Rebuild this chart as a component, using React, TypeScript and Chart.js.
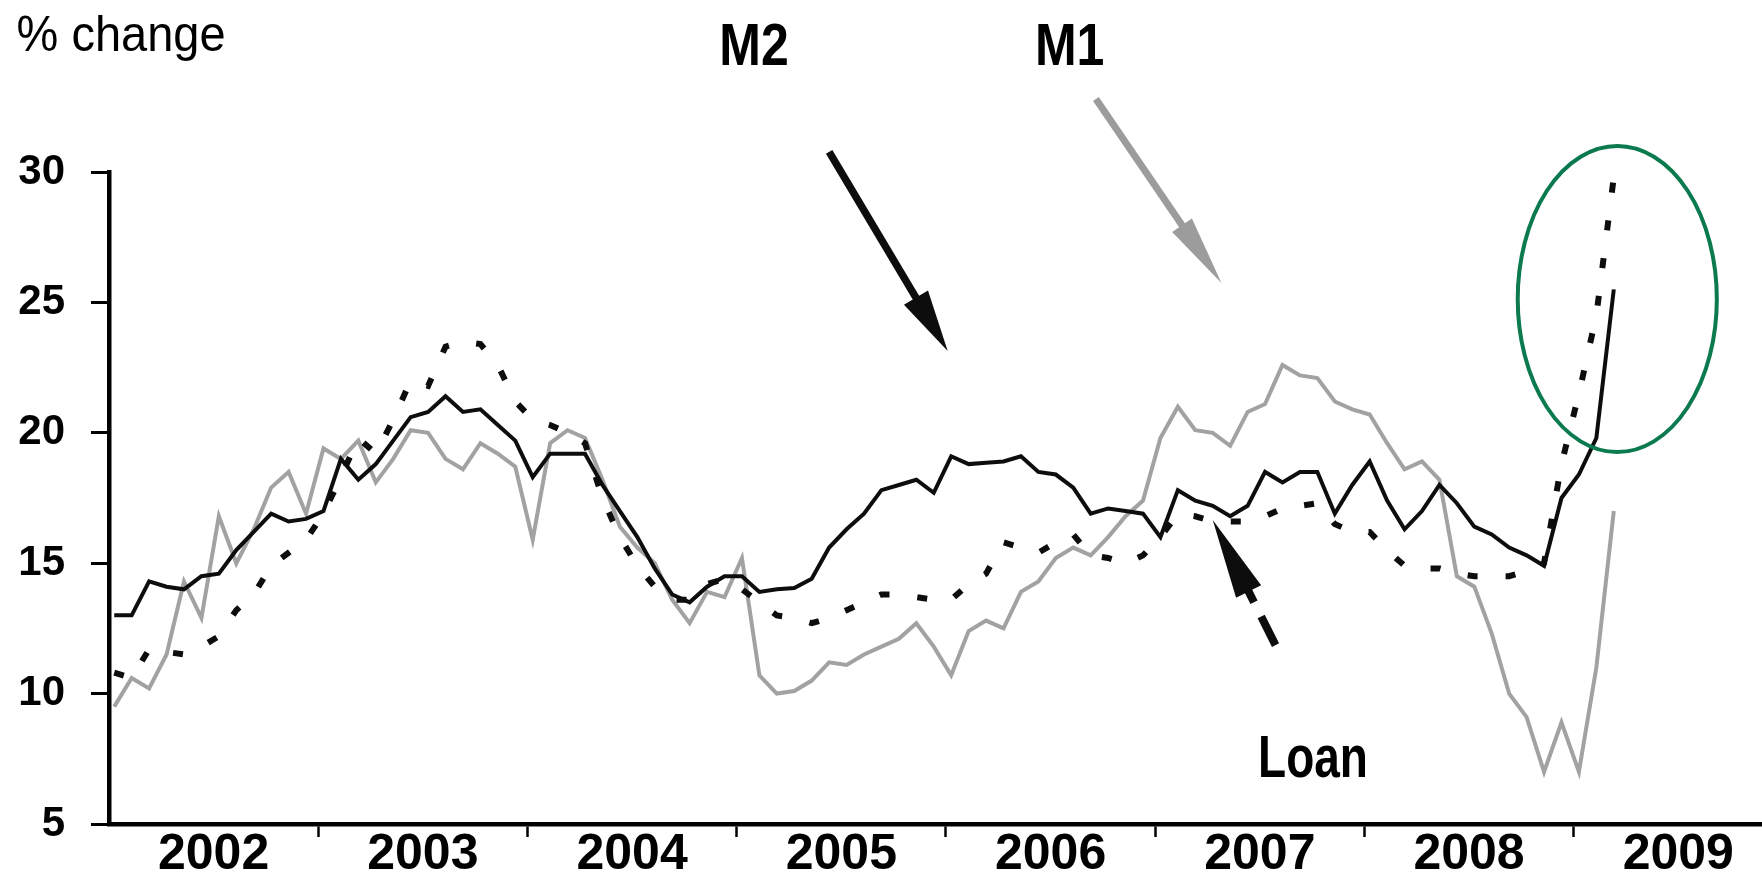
import React, { useEffect, useRef } from "react";
import { Chart, registerables } from "chart.js";

Chart.register(...registerables);

// ---- Data (monthly, Jan 2002 = index 0 ... Mar 2009 = index 86) ----
const YEARS = ["2002", "2003", "2004", "2005", "2006", "2007", "2008", "2009"];
const Y_TICKS = [5, 10, 15, 20, 25, 30];

const M2 = [
  13.0, 13.0, 14.3, 14.1, 14.0, 14.5, 14.6, 15.5, 16.2, 16.9, 16.6, 16.7,
  17.0, 19.0, 18.2, 18.8, 19.7, 20.6, 20.8, 21.4, 20.8, 20.9, 20.3, 19.7,
  18.3, 19.2, 19.2, 19.2, 18.0, 17.0, 16.0, 14.8, 13.8, 13.5, 14.1, 14.5,
  14.5, 13.9, 14.0, 14.05, 14.4, 15.6, 16.3, 16.9, 17.8, 18.0, 18.2, 17.7,
  19.1, 18.8, 18.85, 18.9, 19.1, 18.5, 18.4, 17.9, 16.9, 17.1, 17.0, 16.9,
  16.0, 17.8, 17.4, 17.2, 16.8, 17.2, 18.5, 18.1, 18.5, 18.5, 16.9, 18.0,
  18.9, 17.4, 16.3, 17.0, 18.0, 17.3, 16.4, 16.1, 15.6, 15.3, 14.9, 17.5,
  18.4, 19.8, 25.5,
];

const M1 = [
  9.5, 10.6, 10.2, 11.5, 14.3, 12.9, 16.8, 15.0, 16.3, 17.9, 18.5, 16.9,
  19.4, 19.0, 19.7, 18.1, 19.0, 20.1, 20.0, 19.0, 18.6, 19.6, 19.2, 18.7,
  15.9, 19.6, 20.1, 19.8, 18.2, 16.4, 15.6, 15.0, 13.6, 12.7, 13.9, 13.7,
  15.2, 10.7, 10.0, 10.1, 10.5, 11.2, 11.1, 11.5, 11.8, 12.1, 12.7, 11.8,
  10.7, 12.4, 12.8, 12.5, 13.9, 14.3, 15.2, 15.6, 15.3, 16.0, 16.8, 17.4,
  19.8, 21.0, 20.1, 20.0, 19.5, 20.8, 21.1, 22.6, 22.2, 22.1, 21.2, 20.9,
  20.7, 19.6, 18.6, 18.9, 18.2, 14.5, 14.1, 12.3, 10.0, 9.1, 7.0, 8.9,
  7.0, 11.0, 17.0,
];

const LOAN = [
  10.8, 10.6, 11.7, 11.6, 11.5, 11.8, 12.2, 13.2, 13.8, 14.9, 15.4, 15.9,
  16.9, 18.3, 19.8, 19.2, 20.5, 22.0, 21.8, 23.3, 23.5, 23.4, 22.6, 21.2,
  20.5, 20.3, 20.0, 19.6, 17.5, 16.0, 14.9, 14.1, 13.6, 13.6, 14.2, 14.4,
  14.0, 13.5, 13.0, 12.9, 12.7, 12.9, 13.2, 13.5, 13.8, 13.8, 13.7, 13.6,
  13.6, 14.2, 14.6, 15.8, 15.6, 15.4, 15.8, 16.1, 15.3, 15.2, 15.0, 15.3,
  16.0, 16.9, 16.8, 16.6, 16.6, 16.6, 16.8, 17.1, 17.2, 17.3, 16.5, 16.2,
  16.2, 15.5, 14.9, 14.8, 14.8, 14.6, 14.5, 14.5, 14.5, 14.7, 15.0, 18.8,
  21.5, 24.5, 29.8,
];

// x axis range in months (axis origin slightly before Jan 2002)
const X_START = -0.3;
const X_END = 94.5;

// Annotation anchors in data units: [month, value]
const LABEL_M2 = [34.7, 34.1];
const LABEL_M1 = [52.8, 34.1];
const LABEL_LOAN = [65.6, 6.8];
const LABEL_UNIT = [-5.6, 34.65];
const ARROW_M2 = [41.0, 30.77, 47.8, 23.14];
const ARROW_M1 = [56.3, 32.8, 63.5, 25.74];
const ARROW_LOAN = [66.6, 11.86, 63.0, 16.66];
const ELLIPSE = [86.2, 25.13, 5.71, 5.87];

function drawArrow(
  ctx: CanvasRenderingContext2D,
  x1: number, y1: number, x2: number, y2: number,
  color: string, shaftW: number, headLen: number, headW: number, dash?: number[]
) {
  const dx = x2 - x1, dy = y2 - y1;
  const L = Math.hypot(dx, dy);
  const ux = dx / L, uy = dy / L;
  const bx = x2 - ux * headLen, by = y2 - uy * headLen;
  ctx.save();
  ctx.strokeStyle = color;
  ctx.lineWidth = shaftW;
  ctx.lineCap = "butt";
  if (dash) ctx.setLineDash(dash);
  ctx.beginPath();
  ctx.moveTo(x1, y1);
  ctx.lineTo(bx + ux * 4, by + uy * 4);
  ctx.stroke();
  ctx.setLineDash([]);
  ctx.fillStyle = color;
  ctx.beginPath();
  ctx.moveTo(x2, y2);
  ctx.lineTo(bx - uy * headW, by + ux * headW);
  ctx.lineTo(bx + uy * headW, by - ux * headW);
  ctx.closePath();
  ctx.fill();
  ctx.restore();
}

function drawText(
  ctx: CanvasRenderingContext2D, text: string, x: number, y: number,
  font: string, sy: number, color = "#000"
) {
  ctx.save();
  ctx.translate(x, y);
  ctx.scale(1, sy);
  ctx.font = font;
  ctx.fillStyle = color;
  ctx.textAlign = "left";
  ctx.textBaseline = "alphabetic";
  ctx.fillText(text, 0, 0);
  ctx.restore();
}

export default function App() {
  const ref = useRef<HTMLCanvasElement>(null);

  useEffect(() => {
    document.body.style.margin = "0";
    const canvas = ref.current;
    if (!canvas) return;

    const toPts = (arr: number[]) => arr.map((v, i) => ({ x: i, y: v }));
    const boundaries = YEARS.slice(1).map((_, k) => X_START + 12 * (k + 1));
    const centers = YEARS.map((_, k) => X_START + 12 * k + 6);
    const isBoundary = (v: number) => boundaries.some((b) => Math.abs(b - v) < 1e-6);

    const annot = {
      id: "annot",
      afterDraw(chart: any) {
        const ctx: CanvasRenderingContext2D = chart.ctx;
        const xs = chart.scales.x, ys = chart.scales.y;
        const px = (m: number) => xs.getPixelForValue(m);
        const py = (v: number) => ys.getPixelForValue(v);

        drawText(ctx, "% change", px(LABEL_UNIT[0]), py(LABEL_UNIT[1]), "47px 'Liberation Sans', Arial, sans-serif", 1.05);
        drawText(ctx, "M2", px(LABEL_M2[0]), py(LABEL_M2[1]), "bold 50px 'Liberation Sans', Arial, sans-serif", 1.2);
        drawText(ctx, "M1", px(LABEL_M1[0]), py(LABEL_M1[1]), "bold 50px 'Liberation Sans', Arial, sans-serif", 1.2);
        drawText(ctx, "Loan", px(LABEL_LOAN[0]), py(LABEL_LOAN[1]), "bold 46px 'Liberation Sans', Arial, sans-serif", 1.28);

        drawArrow(ctx, px(ARROW_M2[0]), py(ARROW_M2[1]), px(ARROW_M2[2]), py(ARROW_M2[3]), "#0d0d0d", 7.5, 62, 14);
        drawArrow(ctx, px(ARROW_M1[0]), py(ARROW_M1[1]), px(ARROW_M1[2]), py(ARROW_M1[3]), "#9c9c9c", 7, 70, 12);
        drawArrow(ctx, px(ARROW_LOAN[0]), py(ARROW_LOAN[1]), px(ARROW_LOAN[2]), py(ARROW_LOAN[3]), "#0d0d0d", 8, 80, 14, [32, 16]);

        const cx = px(ELLIPSE[0]), cy = py(ELLIPSE[1]);
        const rx = px(ELLIPSE[0] + ELLIPSE[2]) - cx;
        const ry = cy - py(ELLIPSE[1] + ELLIPSE[3]);
        ctx.save();
        ctx.strokeStyle = "#0b7a4e";
        ctx.lineWidth = 4;
        ctx.beginPath();
        ctx.ellipse(cx, cy, rx, ry, 0, 0, Math.PI * 2);
        ctx.stroke();
        ctx.restore();
      },
    };

    const chart = new Chart(canvas, {
      type: "line",
      data: {
        datasets: [
          { label: "M1", data: toPts(M1), borderColor: "#a2a2a2", borderWidth: 4, pointRadius: 0, order: 2, tension: 0 },
          { label: "M2", data: toPts(M2), borderColor: "#0d0d0d", borderWidth: 4, pointRadius: 0, order: 1, tension: 0 },
          {
            label: "Loan", data: toPts(LOAN), borderColor: "#0d0d0d", borderWidth: 6, borderDash: [10, 28],
            borderCapStyle: "butt", pointRadius: 0, order: 0, tension: 0,
          },
        ],
      },
      options: {
        responsive: false,
        animation: false,
        events: [],
        layout: { padding: { top: 172, right: 0, bottom: 0, left: 0 } },
        plugins: { legend: { display: false }, tooltip: { enabled: false } },
        scales: {
          x: {
            type: "linear",
            min: X_START,
            max: X_END,
            afterBuildTicks: (s: any) => {
              s.ticks = [...boundaries, ...centers].sort((a, b) => a - b).map((v) => ({ value: v }));
            },
            afterFit: (s: any) => { s.height = 54; },
            ticks: {
              autoSkip: false,
              maxRotation: 0,
              minRotation: 0,
              padding: -12,
              color: "#000",
              font: { family: "'Liberation Sans', Arial, sans-serif", size: 50, weight: "bold" },
              callback: (v: any) => {
                const k = centers.findIndex((c) => Math.abs(c - Number(v)) < 1e-6);
                return k >= 0 ? YEARS[k] : "";
              },
            },
            grid: {
              drawOnChartArea: false,
              drawTicks: true,
              tickLength: 13,
              tickWidth: 2.5,
              tickColor: (c: any) => (c.tick && isBoundary(c.tick.value) ? "#000" : "rgba(0,0,0,0)"),
            },
            border: { display: true, color: "#000", width: 4.5 },
          },
          y: {
            type: "linear",
            min: 5,
            max: 30,
            afterBuildTicks: (s: any) => { s.ticks = Y_TICKS.map((v) => ({ value: v })); },
            afterFit: (s: any) => { s.width = 109; },
            ticks: {
              padding: 26,
              color: "#000",
              font: { family: "'Liberation Sans', Arial, sans-serif", size: 42, weight: "bold" },
            },
            grid: { drawOnChartArea: false, drawTicks: true, tickLength: 18, tickWidth: 3, tickColor: "#000" },
            border: { display: true, color: "#000", width: 4.5 },
          },
        },
      },
      plugins: [annot],
    } as any);

    return () => chart.destroy();
  }, []);

  return <canvas ref={ref} width={1762} height={878} style={{ display: "block" }} />;
}
